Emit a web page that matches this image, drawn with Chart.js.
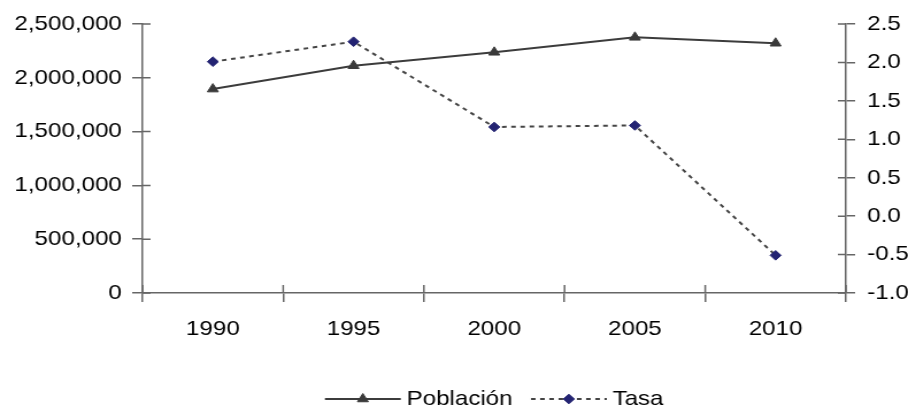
<!DOCTYPE html>
<html>
<head>
<meta charset="utf-8">
<script src="https://cdn.jsdelivr.net/npm/chart.js@4.4.1/dist/chart.umd.min.js"></script>
<style>
  html, body { margin: 0; padding: 0; background: #fff; overflow: hidden; }
  #grafico { display: block; }
</style>
</head>
<body>
<!-- the original picture is stretched sideways, so draw narrow and stretch with CSS -->
<canvas id="grafico" width="790" height="409" style="width:908px;height:409px"></canvas>
<script>
// ------------------- DATA -------------------
const anios = ['1990', '1995', '2000', '2005', '2010'];
const poblacion = [1895000, 2112000, 2237000, 2376000, 2321000];
const tasa = [2.01, 2.27, 1.16, 1.18, -0.51];

const ticksPoblacion = [0, 500000, 1000000, 1500000, 2000000, 2500000];
const ticksTasa = [-1.0, -0.5, 0.0, 0.5, 1.0, 1.5, 2.0, 2.5];

const FONT = { family: 'Arial, "Liberation Sans", sans-serif', size: 21 };
const EJE = '#666';
const TEXTO = '#000';

// short tick stubs on the inner side of every axis
const ticksInternos = {
  id: 'ticksInternos',
  afterDraw(chart){
    const { ctx, chartArea: a, scales } = chart;
    ctx.save();
    ctx.strokeStyle = EJE;
    ctx.lineWidth = 1.5;
    ctx.beginPath();
    scales.y.ticks.forEach((t, i) => {
      const y = scales.y.getPixelForTick(i);
      ctx.moveTo(a.left, y); ctx.lineTo(a.left + 7, y);
    });
    scales.y2.ticks.forEach((t, i) => {
      const y = scales.y2.getPixelForTick(i);
      ctx.moveTo(a.right - 7, y); ctx.lineTo(a.right, y);
    });
    const n = anios.length;
    for(let i = 0; i <= n; i++){
      const x = a.left + i * (a.right - a.left) / n;
      ctx.moveTo(x, a.bottom - 8); ctx.lineTo(x, a.bottom);
    }
    ctx.stroke();
    ctx.restore();
  }
};

// legend: line + marker + text, centered under the plot
const leyenda = {
  id: 'leyenda',
  afterDraw(chart){
    const { ctx, chartArea: a } = chart;
    const y = 399;
    const largo = 66, gapTexto = 5, gapItem = 16;
    ctx.save();
    ctx.font = `${FONT.size}px ${FONT.family}`;
    const items = chart.data.datasets.map(ds => ({ ds, w: ctx.measureText(ds.label).width }));
    const total = items.reduce((s, it) => s + largo + gapTexto + it.w, 0) + gapItem * (items.length - 1);
    let x = (a.left + a.right) / 2 - total / 2;
    items.forEach(({ ds, w }) => {
      ctx.strokeStyle = ds.borderColor;
      ctx.lineWidth = ds.borderWidth;
      ctx.setLineDash(ds.borderDash || []);
      ctx.beginPath();
      ctx.moveTo(x, y); ctx.lineTo(x + largo, y);
      ctx.stroke();
      ctx.setLineDash([]);
      ctx.fillStyle = ds.pointBackgroundColor;
      ctx.strokeStyle = ds.pointBorderColor;
      ctx.lineWidth = 1;
      Chart.helpers.drawPoint(ctx, { pointStyle: ds.pointStyle, radius: ds.pointRadius, borderWidth: 1, rotation: 0 }, x + largo / 2, y);
      ctx.fillStyle = TEXTO;
      ctx.textBaseline = 'middle';
      ctx.textAlign = 'left';
      ctx.fillText(ds.label, x + largo + gapTexto, y);
      x += largo + gapTexto + w + gapItem;
    });
    ctx.restore();
  }
};

const ctx = document.getElementById('grafico').getContext('2d');

new Chart(ctx, {
  type: 'line',
  data: {
    labels: anios,
    datasets: [
      {
        label: 'Población',
        data: poblacion,
        yAxisID: 'y',
        borderColor: '#3c3c3c',
        borderWidth: 2,
        pointStyle: 'triangle',
        pointRadius: 5.5,
        pointBackgroundColor: '#3a3a3a',
        pointBorderColor: '#3a3a3a',
        pointBorderWidth: 1,
        tension: 0
      },
      {
        label: 'Tasa',
        data: tasa,
        yAxisID: 'y2',
        borderColor: '#444',
        borderWidth: 2,
        borderDash: [4, 4],
        pointStyle: 'rectRot',
        pointRadius: 4.8,
        pointBackgroundColor: '#232372',
        pointBorderColor: '#232372',
        pointBorderWidth: 1,
        tension: 0
      }
    ]
  },
  options: {
    responsive: false,
    animation: false,
    layout: { padding: { top: 24, left: 0, right: 0, bottom: 0 } },
    plugins: {
      legend: { display: false },
      tooltip: { enabled: false }
    },
    scales: {
      x: {
        type: 'category',
        offset: true,
        grid: { offset: true, drawOnChartArea: false, color: EJE, lineWidth: 1.5, tickLength: 9 },
        border: { color: EJE, width: 1.5 },
        ticks: { color: TEXTO, font: FONT, padding: 15, maxRotation: 0 },
        afterFit(scale){ scale.height = 116; }
      },
      y: {
        position: 'left',
        min: 0,
        max: 2500000,
        afterBuildTicks(scale){ scale.ticks = ticksPoblacion.map(v => ({ value: v })); },
        grid: { drawOnChartArea: false, color: EJE, lineWidth: 1.5, tickLength: 9 },
        border: { color: EJE, width: 1.5 },
        ticks: {
          color: TEXTO, font: FONT, padding: 9,
          callback: v => v.toLocaleString('en-US')
        },
        afterFit(scale){ scale.width = 124; }
      },
      y2: {
        position: 'right',
        min: -1,
        max: 2.5,
        afterBuildTicks(scale){ scale.ticks = ticksTasa.map(v => ({ value: v })); },
        grid: { drawOnChartArea: false, color: EJE, lineWidth: 1.5, tickLength: 8 },
        border: { color: EJE, width: 1.5 },
        ticks: {
          color: TEXTO, font: FONT, padding: 10.5,
          callback: v => v.toFixed(1)
        },
        afterFit(scale){ scale.width = 54; }
      }
    }
  },
  plugins: [ticksInternos, leyenda]
});
</script>
</body>
</html>
